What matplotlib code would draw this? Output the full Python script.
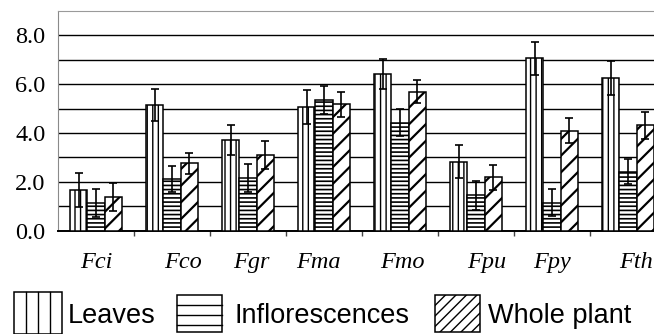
import numpy as np
import matplotlib
matplotlib.use('Agg')
import matplotlib.pyplot as plt
from matplotlib.patches import Rectangle
from matplotlib.lines import Line2D

# data
species = ['Fci', 'Fco', 'Fgr', 'Fma', 'Fmo', 'Fpu', 'Fpy', 'Fth']
leaves = [1.67, 5.15, 3.72, 5.06, 6.43, 2.82, 7.06, 6.25]
leaves_err = [0.68, 0.65, 0.62, 0.69, 0.62, 0.68, 0.68, 0.70]
infl = [1.15, 2.11, 2.15, 5.35, 4.43, 1.45, 1.15, 2.42]
infl_err = [0.57, 0.52, 0.58, 0.56, 0.55, 0.60, 0.56, 0.50]
whole = [1.37, 2.76, 3.09, 5.17, 5.70, 2.19, 4.09, 4.32]
whole_err = [0.57, 0.44, 0.58, 0.51, 0.48, 0.51, 0.51, 0.56]
series_names = ['Leaves', 'Inflorescences', 'Whole plant']

# small shifts of the species names, as placed in the original figure
label_shift = [0.0, 0.14, 0.04, -0.08, 0.03, 0.14, 0.0, 0.11]

W, H = 654, 334
fig = plt.figure(figsize=(W / 100, H / 100), dpi=100)
ax = fig.add_axes([58 / W, (H - 230.7) / H, 608 / W, 219.7 / H])

x = np.arange(len(species))
bw = 0.225
specs = [(leaves, leaves_err, '|||', 1.0),
         (infl, infl_err, '----', 1.2),
         (whole, whole_err, '//', 1.6)]
for k, (vals, errs, hatch, hlw) in enumerate(specs):
    xs = x + (k - 1) * bw
    with plt.rc_context({'hatch.linewidth': hlw}):
        ax.bar(xs, vals, width=bw, color='white', edgecolor='black',
               linewidth=1.1, hatch=hatch, zorder=3)
    ax.errorbar(xs, vals, yerr=errs, fmt='none', ecolor='black',
                elinewidth=1.2, capsize=3.2, capthick=1.2, zorder=4)

ax.set_xlim(-0.5, 7.5)
ax.set_ylim(0, 9)
ax.set_yticks([0, 2, 4, 6, 8])
ax.set_yticklabels(['0.0', '2.0', '4.0', '6.0', '8.0'],
                   family='Liberation Serif', fontsize=17.5)
ax.set_yticks(np.arange(1, 9), minor=True)
ax.tick_params(axis='y', which='both', length=0, pad=9)
ax.grid(axis='y', which='both', color='black', linewidth=1.0)
ax.set_axisbelow(True)

ax.set_xticks(np.arange(0.5, 7.5, 1.0))
ax.set_xticklabels([])
ax.tick_params(axis='x', direction='out', length=3.5, width=1.0, color='#444444')

for i, name in enumerate(species):
    ax.text(i + label_shift[i], -0.168, name, transform=ax.get_xaxis_transform(),
            ha='center', va='baseline', family='Liberation Serif',
            style='italic', fontsize=17.5)

ax.spines['left'].set_color('#8a8a8a')
ax.spines['top'].set_color('#9a9a9a')
ax.spines['right'].set_visible(False)
ax.spines['bottom'].set_linewidth(1.4)

# legend swatches drawn in figure pixels
def fig_xy(px, py):
    return px / W, (H - py) / H

def swatch(x0, x1, y0, y1, kind):
    bx, by = fig_xy(x0, y1)
    rect = Rectangle((bx, by), (x1 - x0) / W, (y1 - y0) / H, transform=fig.transFigure,
                     facecolor='white', edgecolor='black', linewidth=1.1)
    fig.patches.append(rect)
    if kind == 'v':
        for px in np.linspace(x0, x1, 5)[1:-1]:
            fig.lines.append(Line2D([px / W] * 2, [(H - y0) / H, (H - y1) / H],
                                    transform=fig.transFigure, color='black', lw=1.0))
    elif kind == 'h':
        for py in np.arange(y0 + 10, y1, 10):
            fig.lines.append(Line2D([x0 / W, x1 / W], [(H - py) / H] * 2,
                                    transform=fig.transFigure, color='black', lw=1.0))
    else:
        for s in np.arange(x0 - (y1 - y0), x1, 10.5):
            ln = Line2D([s / W, (s + (y1 - y0)) / W], [(H - y1) / H, (H - y0) / H],
                        transform=fig.transFigure, color='black', lw=1.0)
            ln.set_clip_path(rect)
            fig.lines.append(ln)

swatch(14, 62, 292, 334, 'v')
swatch(177, 222, 295, 332, 'h')
swatch(435, 480, 295, 332, 'd')

for px, name in zip([68, 235, 488], series_names):
    tx, ty = fig_xy(px, 323)
    fig.text(tx, ty, name, ha='left', va='baseline', family='Liberation Sans',
             fontsize=19.5)

fig.savefig('out.png', dpi=100)
